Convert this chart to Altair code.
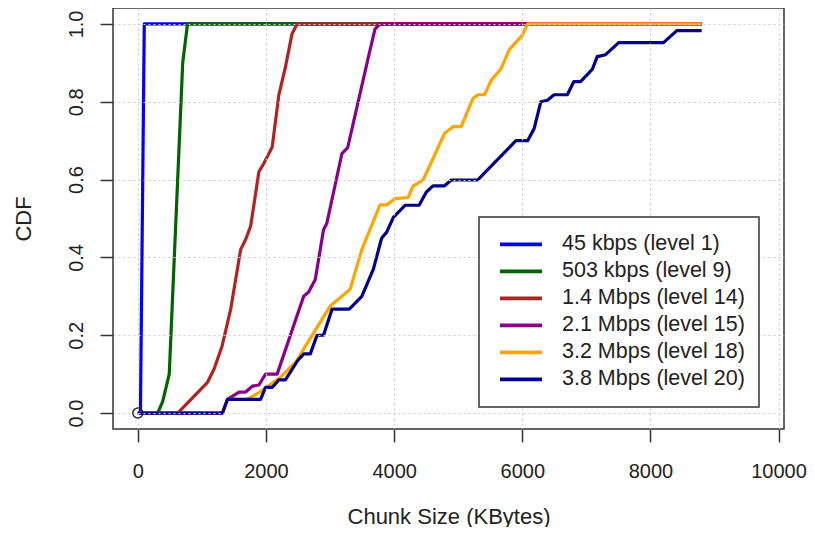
import altair as alt
import pandas as pd

series_names = [
    "45 kbps (level 1)",
    "503 kbps (level 9)",
    "1.4 Mbps (level 14)",
    "2.1 Mbps (level 15)",
    "3.2 Mbps (level 18)",
    "3.8 Mbps (level 20)",
]
series_colors = ["#0000FF", "#006400", "#B22222", "#8B008B", "#FFA500", "#00008B"]

x_l1 = [0, 40, 100, 8800]
y_l1 = [0, 0, 1, 1]

x_l9 = [0, 310, 388, 490, 700, 775, 8800]
y_l9 = [0, 0, 0.03, 0.10, 0.90, 1.0, 1.0]

x_l14 = [0, 621, 1087, 1190, 1316, 1449, 1604, 1682, 1760, 1889, 1967, 2097, 2200, 2303, 2407, 2485, 8800]
y_l14 = [0, 0, 0.079, 0.113, 0.173, 0.267, 0.42, 0.446, 0.48, 0.62, 0.642, 0.684, 0.817, 0.889, 0.975, 1, 1]

x_l15 = [0, 1320, 1398, 1580, 1682, 1786, 1889, 1993, 2174, 2588, 2666, 2769, 2898, 2950, 3185, 3275, 3598, 3701, 3779, 8800]
y_l15 = [0, 0, 0.035, 0.054, 0.054, 0.069, 0.072, 0.10, 0.10, 0.30, 0.311, 0.343, 0.471, 0.488, 0.667, 0.682, 0.915, 0.987, 1, 1]

x_l18 = [0, 1320, 1398, 1708, 1915, 2225, 2459, 2796, 3002, 3313, 3495, 3780, 3884, 4014, 4218, 4296, 4453, 4788, 4918, 5047,
         5228, 5306, 5410, 5513, 5668, 5797, 6005, 6083, 8800]
y_l18 = [0, 0, 0.035, 0.035, 0.055, 0.092, 0.13, 0.22, 0.275, 0.318, 0.42, 0.535, 0.535, 0.551, 0.554, 0.583, 0.599, 0.719, 0.736, 0.736,
         0.808, 0.818, 0.818, 0.855, 0.885, 0.934, 0.972, 1, 1]

x_l20 = [0, 1320, 1398, 1915, 1993, 2097, 2200, 2303, 2495, 2590, 2692, 2796, 2898, 3030, 3300, 3495, 3676, 3806, 3884, 3988,
         4170, 4390, 4503, 4607, 4788, 4892, 5306, 5901, 6083, 6185, 6289, 6393, 6497, 6703, 6806, 6910, 7092, 7170, 7300, 7505,
         8204, 8412, 8800]
y_l20 = [0, 0, 0.035, 0.035, 0.066, 0.066, 0.085, 0.085, 0.135, 0.152, 0.152, 0.20, 0.20, 0.267, 0.267, 0.30, 0.37, 0.45, 0.465, 0.503,
         0.534, 0.534, 0.568, 0.584, 0.584, 0.599, 0.599, 0.70, 0.70, 0.731, 0.80, 0.804, 0.818, 0.818, 0.852, 0.852, 0.883, 0.916, 0.921, 0.952,
         0.952, 0.983, 0.983]

x_ticks = [0, 2000, 4000, 6000, 8000, 10000]
y_ticks = [0.0, 0.2, 0.4, 0.6, 0.8, 1.0]

all_x = [x_l1, x_l9, x_l14, x_l15, x_l18, x_l20]
all_y = [y_l1, y_l9, y_l14, y_l15, y_l18, y_l20]

rows = []
for k, (name, xs, ys) in enumerate(zip(series_names, all_x, all_y)):
    for i, (xv, yv) in enumerate(zip(xs, ys)):
        rows.append({"size": xv, "cdf": yv, "series": name, "order": i, "s": k})
df = pd.DataFrame(rows)
origin = pd.DataFrame({"size": [0], "cdf": [0]})

FONT = "Liberation Sans"
TXT = "#222222"

xscale = alt.Scale(domain=[-388, 10085], nice=False, zero=False)
yscale = alt.Scale(domain=[-0.041, 1.041], nice=False, zero=False)

xaxis = alt.Axis(values=x_ticks, format="d", title="Chunk Size (KBytes)", tickSize=13, tickWidth=1.5,
                 tickColor="#333333", labelFontSize=20, labelPadding=19, labelFlush=False, labelOverlap=False,
                 grid=True, gridColor="#cccccc", gridDash=[2, 3], gridWidth=1.2, domain=False,
                 titleFontSize=22, titlePadding=25, zindex=1)
yaxis = alt.Axis(values=y_ticks, format=".1f", title="CDF", tickSize=13, tickWidth=1.5,
                 tickColor="#333333", labelFontSize=20, labelPadding=18, labelAngle=-90, labelAlign="center",
                 labelBaseline="alphabetic", labelFlush=False, labelOverlap=False,
                 grid=True, gridColor="#cccccc", gridDash=[2, 3], gridWidth=1.2, domain=False,
                 titleFontSize=22, titlePadding=31, zindex=1)

lines = alt.Chart(df).mark_line(strokeWidth=3.2, strokeJoin="round").encode(
    x=alt.X("size:Q", scale=xscale, axis=xaxis),
    y=alt.Y("cdf:Q", scale=yscale, axis=yaxis),
    color=alt.Color("series:N", scale=alt.Scale(domain=series_names, range=series_colors),
                    sort=series_names,
                    legend=alt.Legend(orient="none", legendX=366, legendY=209, title=None,
                                      symbolType="stroke", symbolSize=1764, symbolStrokeWidth=3.8,
                                      labelFontSize=21.5, labelFont=FONT, labelColor=TXT, labelLimit=400,
                                      strokeColor="#333333", fillColor="white", padding=14,
                                      rowPadding=0, clipHeight=26.7, labelOffset=18, symbolOffset=5, zindex=2)),
    order=alt.Order("order:Q"),
)

pt = alt.Chart(origin).mark_point(shape="circle", filled=False, size=100, color="#222222", strokeWidth=1.5,
                                  opacity=1).encode(
    x=alt.X("size:Q", scale=xscale),
    y=alt.Y("cdf:Q", scale=yscale),
)

chart = alt.layer(lines, pt).properties(
    width=671, height=421,
    autosize=alt.AutoSizeParams(type="none"),
    padding={"left": 105, "top": 0, "right": 23, "bottom": 98},
).configure_view(stroke="#333333", strokeWidth=1.5).configure_axis(
    labelFont=FONT, titleFont=FONT, labelColor=TXT, titleColor=TXT, titleFontWeight="normal"
).configure_legend(strokeWidth=1.5)

chart.save("out.html", embed_options={"renderer": "svg", "actions": False})
